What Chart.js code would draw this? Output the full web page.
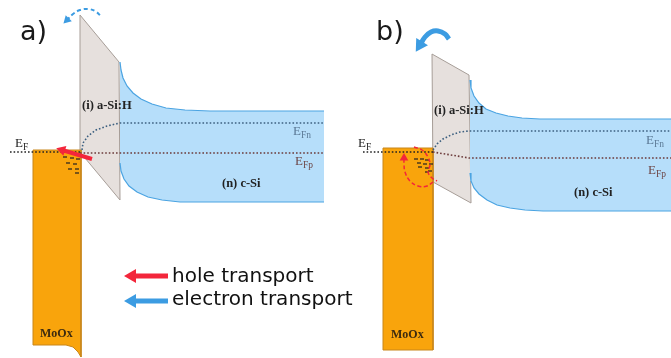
<!DOCTYPE html>
<html>
<head>
<meta charset="utf-8">
<script src="https://cdn.jsdelivr.net/npm/chart.js@4"></script>
<style>
html, body { margin: 0; padding: 0; background: #fff; }
#wrap { width: 671px; height: 358px; }
</style>
</head>
<body>
<div id="wrap"><canvas id="bands"></canvas></div>
<script>
// band diagram: x = position, y = energy (drawn downwards, same units as the picture)

// panel a
const moox_a = [[33,150],[81,150],[81,357],[78,352],[73,347],[66,345],[33,345],[33,150]]
const asi_a = [[80,15],[119,62],[120,200],[80,152],[80,15]]
const csi_top_a = [[120,62],[121,70],[123,78],[127,86],[133,93],[141,99],[152,104],[166,108],[185,110],[210,111],[324,111]]
const csi_bot_a = [[120,163],[121,171],[124,179],[129,186],[137,192],[148,197],[162,200],[180,202],[205,202],[324,202]]
const efn_a = [[82,150],[83,143],[88,136],[96,130],[107,126],[120,123],[324,123]]
const efp_a = [[80,153],[324,153]]
const ef_a = [[10,152],[80,152]]
const traps_a = [[65,157],[72,158],[78,159],[68,163],[75,164],[70,169],[77,169],[77,173]]
const hole_a = [[92,159],[62,150]]
const electron_a = [[100,15],[95,11],[88,9],[80,10],[73,14],[67,20]]

// panel b
const moox_b = [[383,148],[433,148],[433,350],[383,350],[383,148]]
const asi_b = [[432,54],[469,75],[471,203],[433,182],[432,54]]
const csi_top_b = [[470,80],[471,88],[474,96],[479,103],[486,109],[496,113],[508,116],[522,118],[540,119],[671,119]]
const csi_bot_b = [[470,173],[471,181],[474,188],[479,194],[487,200],[497,205],[510,208],[525,210],[543,211],[671,211]]
const efn_b = [[433,150],[437,144],[443,139],[451,135],[460,132],[469,131],[671,131]]
const efp_b = [[433,152],[469,158],[671,158]]
const ef_b = [[363,152],[433,152]]
const traps_b = [[416,159],[422,159],[427,160],[419,163],[425,164],[431,164],[420,167],[427,168],[427,172],[430,171]]
const hole_b = [[433,182],[427,186],[418,186],[410,181],[405,172],[404,164],[404,158]]
const hole_b2 = [[414,147],[422,150],[428,157],[430,165],[428,172],[432,178],[437,181]]
const electron_b = [[449,39],[445,34],[438,31],[431,32],[425,37],[420,45]]

// legend
const hole_key = [[168,276],[132,276]]
const electron_key = [[168,301],[132,301]]

const notes = [
    {t: 'a)', x: 20, y: 40, font: '27px "DejaVu Sans"', color: '#1a1a1a'},
    {t: 'b)', x: 376, y: 40, font: '27px "DejaVu Sans"', color: '#1a1a1a'},
    {t: '(i) a-Si:H', x: 82, y: 109, font: 'bold 12.5px "Liberation Serif"', color: '#222'},
    {t: '(i) a-Si:H', x: 434, y: 114, font: 'bold 12.5px "Liberation Serif"', color: '#222'},
    {t: '(n) c-Si', x: 222, y: 187, font: 'bold 12.5px "Liberation Serif"', color: '#222'},
    {t: '(n) c-Si', x: 574, y: 196, font: 'bold 12.5px "Liberation Serif"', color: '#222'},
    {t: 'MoOx', x: 40, y: 337, font: 'bold 12px "Liberation Serif"', color: '#3d2b10'},
    {t: 'MoOx', x: 391, y: 338, font: 'bold 12px "Liberation Serif"', color: '#3d2b10'},
    {t: 'E', sub: 'F', x: 15, y: 147, color: '#222'},
    {t: 'E', sub: 'F', x: 358, y: 147, color: '#222'},
    {t: 'E', sub: 'Fn', x: 293, y: 135, color: '#5a7894'},
    {t: 'E', sub: 'Fp', x: 295, y: 165, color: '#6d4646'},
    {t: 'E', sub: 'Fn', x: 646, y: 144, color: '#5a7894'},
    {t: 'E', sub: 'Fp', x: 648, y: 174, color: '#6d4646'},
    {t: 'hole transport', x: 172, y: 282, font: '20px "DejaVu Sans"', color: '#111'},
    {t: 'electron transport', x: 172, y: 305, font: '20px "DejaVu Sans"', color: '#111'}
]

const orange = '#f9a40c'
const red = '#f3263b'
const blue = '#3c9ce2'

const xy = pts => pts.map(([x, y]) => ({x, y}))
const layers = []

function poly(pts, fill, stroke, width) {
    layers.push({data: xy(pts), showLine: true, fill: 'shape', backgroundColor: fill,
        borderColor: stroke, borderWidth: width, pointRadius: 0, tension: 0})
}
function path(pts, color, width, dash, smooth) {
    layers.push({data: xy(pts), showLine: true, fill: false, borderColor: color, borderWidth: width,
        borderDash: dash || [], pointRadius: 0, tension: smooth ? 0.4 : 0})
}
function arrow(pts, color, width, head, dash, smooth) {
    path(pts, color, width, dash, smooth)
    const [p, q] = pts.slice(-2)
    layers.push({data: xy([q]), showLine: false, pointStyle: 'triangle', pointRadius: head,
        pointRotation: Math.atan2(q[0] - p[0], -(q[1] - p[1])) * 180 / Math.PI,
        backgroundColor: color, borderWidth: 0})
}
function marks(pts) {
    layers.push({data: xy(pts), showLine: false, pointStyle: 'line', pointRadius: 2,
        borderColor: '#222', borderWidth: 1.2})
}
const dots = [1.6, 2]

// back to front
poly(asi_a, '#e6e0dd', '#a69d97', 1)
poly([...csi_top_a, ...csi_bot_a.slice().reverse()], '#b6defa', 'rgba(0,0,0,0)', 0)
path(csi_top_a, '#4ba4e2', 1.2)
path(csi_bot_a, '#4ba4e2', 1.2)
poly(moox_a, orange, '#c8861a', 1)
path(ef_a, '#222', 1.6, dots)
path(efp_a, '#6b3a3a', 1.6, dots)
path(efn_a, '#3d6080', 1.6, dots)
marks(traps_a)
arrow(hole_a, red, 4, 6)
arrow(electron_a, blue, 2, 5, [4, 3], true)

poly(asi_b, '#e6e0dd', '#a69d97', 1)
poly([...csi_top_b, ...csi_bot_b.slice().reverse()], '#b6defa', 'rgba(0,0,0,0)', 0)
path(csi_top_b, '#4ba4e2', 1.2)
path(csi_bot_b, '#4ba4e2', 1.2)
poly(moox_b, orange, '#c8861a', 1)
path(ef_b, '#222', 1.6, dots)
path(efp_b, '#6b3a3a', 1.6, dots)
path(efn_b, '#3d6080', 1.6, dots)
marks(traps_b)
path(hole_b2, red, 1.5, [4, 2.5], true)
arrow(hole_b, red, 1.5, 5, [4, 2.5], true)
arrow(electron_b, blue, 5, 8, [], true)

arrow(hole_key, red, 5, 8)
arrow(electron_key, blue, 5, 8)

layers.forEach((d, i) => { d.order = -i })

const notesPlugin = {
    id: 'notes',
    afterDatasetsDraw(chart) {
        const {ctx, scales: {x, y}} = chart
        ctx.save()
        ctx.textBaseline = 'alphabetic'
        ctx.textAlign = 'left'
        for (const n of notes) {
            const px = x.getPixelForValue(n.x)
            const py = y.getPixelForValue(n.y)
            ctx.fillStyle = n.color
            ctx.font = n.font || '13px "Liberation Serif"'
            ctx.fillText(n.t, px, py)
            if (n.sub) {
                const w = ctx.measureText(n.t).width
                ctx.font = '9.5px "Liberation Serif"'
                ctx.fillText(n.sub, px + w, py + 3)
            }
        }
        ctx.restore()
    }
}

new Chart(document.getElementById('bands'), {
    type: 'scatter',
    data: {datasets: layers},
    options: {
        responsive: true,
        maintainAspectRatio: false,
        animation: false,
        events: [],
        layout: {padding: 0, autoPadding: false},
        plugins: {legend: {display: false}, tooltip: {enabled: false}},
        scales: {
            x: {type: 'linear', min: 0, max: 671, display: false},
            y: {type: 'linear', min: 0, max: 358, reverse: true, display: false}
        }
    },
    plugins: [notesPlugin]
})
</script>
</body>
</html>
